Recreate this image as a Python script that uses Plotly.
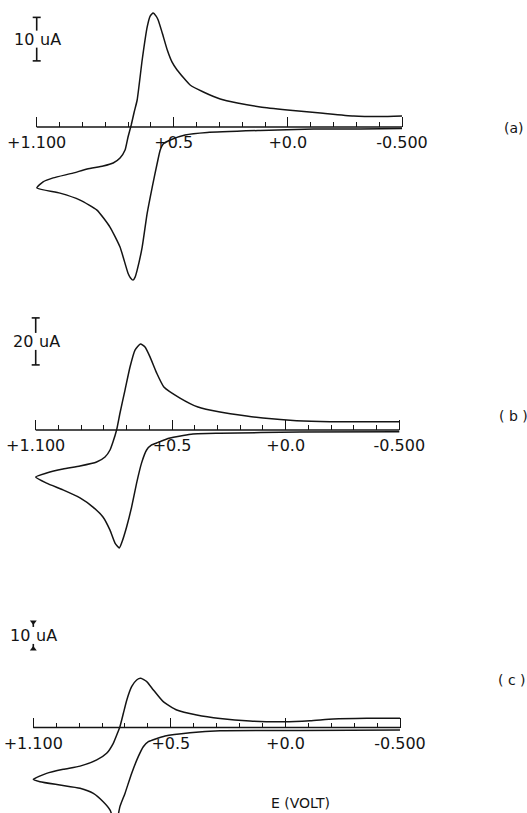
import plotly.graph_objects as go

# ---------------- data ----------------
PANEL_TAGS = ["(a)", "( b )", "( c )"]
AXIS_E = [1.1, -0.5]                       # potential window (V)
MAJOR_TICKS = [1.1, 0.5, 0.0, -0.5]
MAJOR_LABELS = ["+1.100", "+0.5", "+0.0", "-0.500"]
MINOR_TICKS = [1.0, 0.9, 0.8, 0.7, 0.6, 0.4, 0.3, 0.2, 0.1,
               -0.1, -0.2, -0.3, -0.4]
SCALE_UA = [10, 20, 10]                    # current scale bars (uA)
SCALE_TEXT = ["10", "20", "10"]
UNIT_TEXT = "uA"
X_TITLE = "E (VOLT)"

# panel (a): potential (V) and current (uA), in scan order
E_a = [-0.50, -0.318, -0.112, 0.121, 0.353, 0.450, 0.515, 0.546, 0.559, 0.572,
       0.594, 0.616, 0.638, 0.660, 0.669, 0.678, 0.689, 0.700, 0.735, 0.779,
       0.836, 0.910, 0.998, 1.100, 1.072, 1.028, 0.941, 0.879, 0.809, 0.765,
       0.735, 0.713, 0.700, 0.686, 0.673, 0.660, 0.638, 0.616, 0.603, 0.590,
       0.577, 0.568, 0.550, 0.528, 0.507, 0.485, 0.428, 0.370, 0.296, 0.221,
       0.121, 0.002, -0.143, -0.288, -0.406, -0.50]
I_a = [-0.34, -0.46, -0.46, -0.80, -1.26, -1.84, -2.99, -3.9, -5.29, -8.28,
       -13.8, -19.8, -27.6, -32.9, -34.5, -35.2, -34.7, -33.6, -27.6, -23.0,
       -19.1, -16.8, -15.2, -14.0, -12.6, -11.7, -10.6, -9.66, -8.97, -8.28,
       -7.13, -5.29, -2.30, 0.46, 3.45, 6.21, 15.4, 23.0, 25.5, 26.2,
       25.5, 24.6, 21.6, 17.7, 14.9, 13.1, 9.66, 8.05, 6.44, 5.52,
       4.60, 3.91, 3.22, 2.53, 2.41, 2.53]

# panel (b)
E_b = [-0.50, -0.063, 0.289, 0.408, 0.451, 0.518, 0.568, 0.590, 0.612, 0.634,
       0.656, 0.678, 0.700, 0.722, 0.732, 0.751, 0.773, 0.804, 0.848, 0.905,
       0.980, 1.052, 1.100, 1.052, 0.980, 0.905, 0.832, 0.795, 0.773, 0.760,
       0.744, 0.729, 0.707, 0.685, 0.663, 0.639, 0.619, 0.597, 0.568, 0.536,
       0.465, 0.386, 0.289, 0.172, 0.100, -0.048, -0.195, -0.340, -0.50]
I_b = [-0.72, -0.85, -1.40, -1.70, -2.30, -3.60, -5.53, -6.38, -8.51, -14.0,
       -22.6, -32.8, -41.3, -48.1, -50.2, -48.1, -42.6, -37.0, -32.8, -28.9,
       -25.5, -22.6, -20.0, -18.3, -16.6, -15.3, -13.6, -11.5, -8.51, -5.11,
       0.0, 7.23, 17.0, 26.8, 34.0, 36.6, 35.3, 31.1, 24.3, 18.3,
       13.6, 9.79, 7.66, 5.96, 5.11, 3.96, 3.53, 3.53, 3.53]

# panel (c)
E_c = [-0.50, -0.064, 0.285, 0.416, 0.525, 0.598, 0.620, 0.642, 0.671, 0.700,
       0.722, 0.739, 0.757, 0.765, 0.795, 0.838, 0.896, 0.984, 1.071, 1.100,
       1.042, 0.969, 0.896, 0.823, 0.780, 0.751, 0.733, 0.722, 0.707, 0.692,
       0.671, 0.649, 0.631, 0.605, 0.576, 0.533, 0.474, 0.387, 0.285, 0.155,
       0.008, -0.107, -0.209, -0.355, -0.50]
I_c = [-0.93, -1.11, -1.19, -1.93, -3.15, -5.26, -7.11, -10.8, -17.0, -24.4,
       -29.3, -35.7, -32.4, -30.6, -27.5, -24.4, -22.5, -21.3, -20.1, -19.2,
       -17.0, -15.5, -14.3, -12.0, -9.56, -5.85, -2.15, 0.30, 5.26, 10.2,
       15.1, 17.6, 18.2, 17.0, 13.9, 9.56, 6.48, 4.63, 3.33, 2.41,
       2.15, 2.52, 3.15, 3.41, 3.41]

SERIES = [(E_a, I_a), (E_b, I_b), (E_c, I_c)]

# ---------------- layout (pixel geometry of each panel) ----------------
W, H = 527, 813
INK = "#141414"
FONT = "DejaVu Sans"
# left px of +1.100, right px of -0.500, px row of zero current, px per uA,
# bottom of scale bar (uA), tag position (px)
GEOM = [
    dict(L=36.7, R=402.0, Y0=127.0, s=4.35, bar0=15.2, tag=(514, 128), cap="bar"),
    dict(L=35.7, R=399.3, Y0=430.0, s=2.35, bar0=27.7, tag=(513, 416), cap="bar"),
    dict(L=33.3, R=400.0, Y0=727.5, s=2.70, bar0=29.1, tag=(512, 680), cap="tri"),
]

fig = go.Figure()
layout = dict(
    width=W, height=H, margin=dict(l=0, r=0, t=0, b=0),
    paper_bgcolor="white", plot_bgcolor="rgba(0,0,0,0)",
    showlegend=False, hovermode=False,
)
annotations = []

for k, g in enumerate(GEOM):
    sfx = "" if k == 0 else str(k + 1)
    xa, ya = "x" + sfx, "y" + sfx
    span = AXIS_E[0] - AXIS_E[1]
    pxv = (g["R"] - g["L"]) / span                    # px per volt
    e_left = AXIS_E[0] + g["L"] / pxv
    e_right = AXIS_E[0] - (W - g["L"]) / pxv
    y_top = g["Y0"] / g["s"]
    y_bot = (g["Y0"] - H) / g["s"]

    layout["xaxis" + sfx] = dict(
        domain=[0, 1], range=[e_left, e_right], anchor="free",
        position=1 - g["Y0"] / H, showgrid=False, zeroline=False,
        showline=False, tickmode="array", tickvals=MAJOR_TICKS,
        ticktext=MAJOR_LABELS, ticks="inside", ticklen=10, tickwidth=1.3,
        tickcolor=INK, ticklabelstandoff=4,
        tickfont=dict(family=FONT, size=16, color=INK),
        minor=dict(tickvals=MINOR_TICKS, ticks="inside", ticklen=5,
                   tickwidth=1.2, tickcolor=INK),
        fixedrange=True,
    )
    layout["yaxis" + sfx] = dict(
        domain=[0, 1], range=[y_bot, y_top], anchor=xa, visible=False,
        fixedrange=True,
    )

    # zero-current baseline of the potential axis
    fig.add_trace(go.Scatter(x=AXIS_E, y=[0, 0], xaxis=xa, yaxis=ya,
                             mode="lines", line=dict(color=INK, width=1.3)))
    # voltammogram
    E, I = SERIES[k]
    fig.add_trace(go.Scatter(x=E, y=I, xaxis=xa, yaxis=ya, mode="lines",
                             line=dict(color=INK, width=1.5, shape="spline",
                                       smoothing=0.5)))

    # current scale bar
    x0 = AXIS_E[0]
    d = 4.0 / pxv
    bot = g["bar0"]
    top = bot + SCALE_UA[k]
    mid = (top + bot) / 2
    gap = 8.5 / g["s"]
    bx = [x0, x0, None, x0, x0]
    by = [top, mid + gap, None, mid - gap, bot]
    if g["cap"] == "bar":
        bx += [None, x0 - d, x0 + d, None, x0 - d, x0 + d]
        by += [None, top, top, None, bot, bot]
    fig.add_trace(go.Scatter(x=bx, y=by, xaxis=xa, yaxis=ya, mode="lines",
                             line=dict(color=INK, width=1.6)))
    if g["cap"] == "tri":
        fig.add_trace(go.Scatter(x=[x0, x0], y=[top, bot], xaxis=xa, yaxis=ya,
                                 mode="markers",
                                 marker=dict(symbol=["triangle-down", "triangle-up"],
                                             size=6, color=INK)))
    annotations.append(dict(x=x0, y=mid, xref=xa, yref=ya, text=SCALE_TEXT[k],
                            xanchor="right", yanchor="middle", xshift=-1,
                            showarrow=False,
                            font=dict(family=FONT, size=16, color=INK)))
    annotations.append(dict(x=x0, y=mid, xref=xa, yref=ya, text=UNIT_TEXT,
                            xanchor="left", yanchor="middle", xshift=1,
                            showarrow=False,
                            font=dict(family=FONT, size=16, color=INK)))
    # panel tag
    tx, ty = g["tag"]
    annotations.append(dict(x=tx / W, y=1 - ty / H, xref="paper", yref="paper",
                            text=PANEL_TAGS[k], showarrow=False,
                            xanchor="center", yanchor="middle",
                            font=dict(family=FONT, size=14, color=INK)))

annotations.append(dict(x=300 / W, y=1 - 803 / H, xref="paper", yref="paper",
                        text=X_TITLE, showarrow=False, xanchor="center",
                        yanchor="middle",
                        font=dict(family=FONT, size=14, color=INK)))
layout["annotations"] = annotations
fig.update_layout(**layout)
fig.write_html(
    "out.html",
    config={"displayModeBar": False, "responsive": False},
    post_script="document.body.style.margin='0';"
                "document.body.style.overflow='hidden';",
)
